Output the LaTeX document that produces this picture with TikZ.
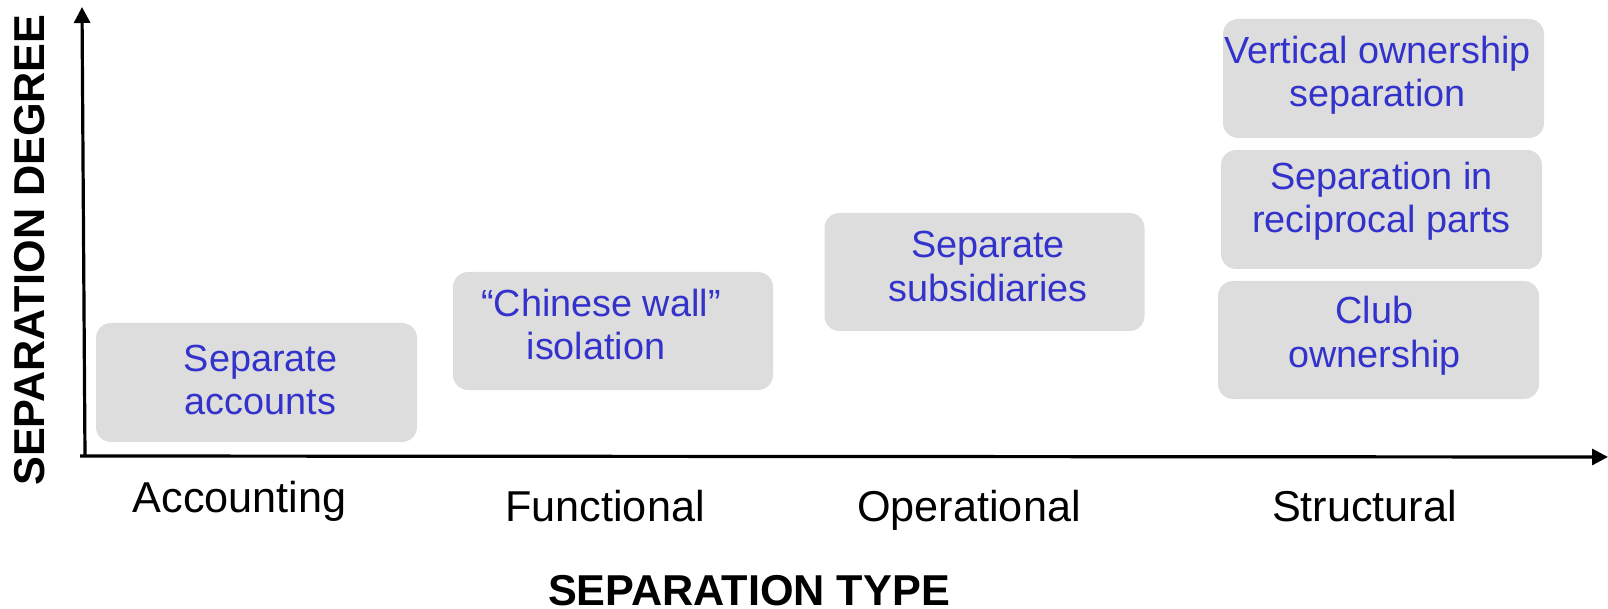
\documentclass[tikz,border=0pt]{standalone}
\usepackage{fontspec}
\setmainfont{Liberation Sans}
\usetikzlibrary{arrows.meta}
\definecolor{boxgray}{HTML}{DDDDDD}
\definecolor{textblue}{HTML}{3333CC}
\tikzset{
  sepbox/.style={fill=boxgray, draw=none, rounded corners=15pt, minimum width=321pt, minimum height=119pt, inner sep=0pt},
  boxtext/.style={text=textblue, align=center, inner sep=0pt, font=\fontsize{37.8}{43.5}\selectfont},
  typelabel/.style={text=black, anchor=base, inner sep=0pt, font=\fontsize{43.2}{48}\selectfont},
  axistitle/.style={text=black, anchor=base, inner sep=0pt, font=\fontsize{43.2}{48}\selectfont\bfseries},
  axisline/.style={line width=3.2pt, -{Triangle[length=16pt,width=16pt]}}
}
\begin{document}
\begin{tikzpicture}[x=1pt,y=-1pt]
\useasboundingbox (0,0) rectangle (1608,609);
% axes
\coordinate (ybot) at (85,456);
\coordinate (ytop) at (82,7);
\coordinate (xleft) at (80,456);
\coordinate (xright) at (1608,457);
\draw[axisline] (ybot) -- (ytop);
\draw[axisline] (xleft) -- (xright);
% boxes
\node[sepbox] (b1) at (256.5,382.5) {};
\node[sepbox, minimum width=320pt, minimum height=118pt] (b2) at (613,331) {};
\node[sepbox, minimum width=320pt, minimum height=118pt] (b3) at (984.5,272) {};
\node[sepbox] (b4) at (1383.5,78.5) {};
\node[sepbox] (b5) at (1381.5,209.5) {};
\node[sepbox, minimum height=118pt] (b6) at (1378.5,340) {};
% box texts
\node[boxtext] (t1) at (260.5,380) {Separate\\accounts};
\node[boxtext] (t2) at (601,324.5) {“Chinese wall”\\isolation\hspace*{10pt}};
\node[boxtext] (t3) at (988,266.5) {Separate\\subsidiaries};
\node[boxtext] (t4) at (1377.5,75) {Vertical ownership\\separation};
\node[boxtext] (t5) at (1381.5,201) {Separation in\\reciprocal parts};
\node[boxtext] (t6) at (1374.5,335.5) {Club\\ownership};
% type labels
\node[typelabel] (l1) at (239.5,512) {Accounting};
\node[typelabel] (l2) at (605,521) {Functional};
\node[typelabel] (l3) at (969,521) {Operational};
\node[typelabel] (l4) at (1364.5,521) {Structural};
% axis titles
\node[axistitle] (xt) at (749,605) {SEPARATION TYPE};
\node[axistitle, rotate=90] (yt) at (44,250) {SEPARATION DEGREE};
\end{tikzpicture}
\end{document}
